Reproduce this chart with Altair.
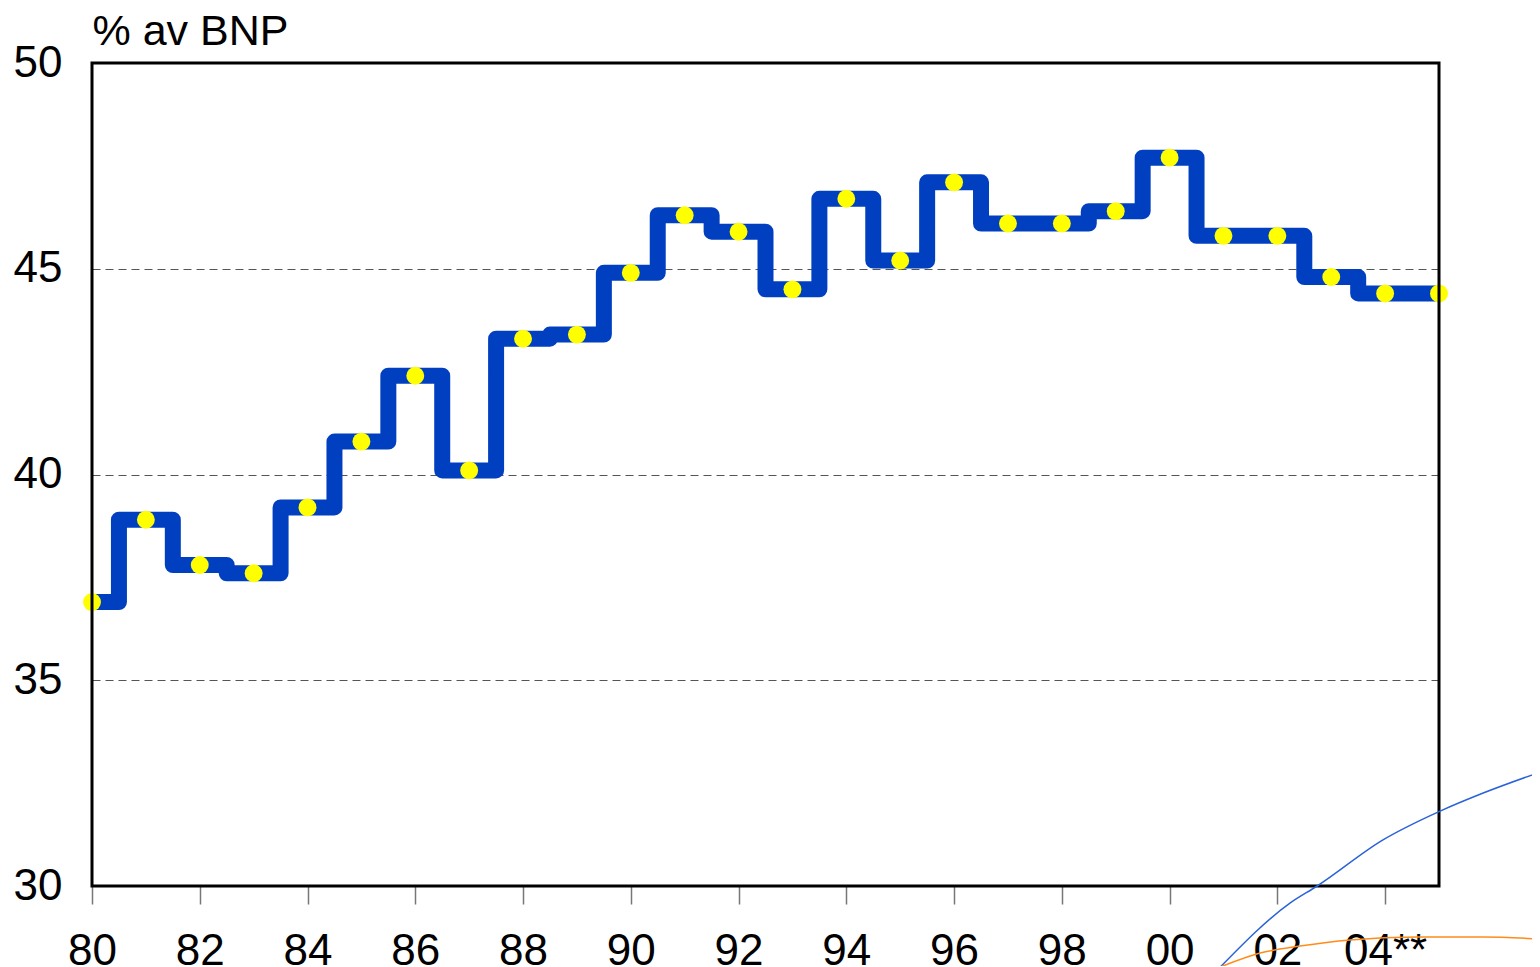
import altair as alt
import pandas as pd

# ---- data ----
years = list(range(1980, 2006))
values = [36.9, 38.9, 37.8, 37.6, 39.2, 40.8, 42.4, 40.1, 43.3, 43.4,
          44.9, 46.3, 45.9, 44.5, 46.7, 45.2, 47.1, 46.1, 46.1, 46.4,
          47.7, 45.8, 45.8, 44.8, 44.4, 44.4]

tick_values = list(range(1980, 2005, 2))
tick_labels = ["80", "82", "84", "86", "88", "90", "92", "94", "96", "98",
               "00", "02", "04**"]
y_ticks = [30, 35, 40, 45, 50]

# stray curves at the lower right of the picture
blue_x = [2000.94, 2002.24, 2002.74, 2003.96, 2005.02, 2005.82, 2006.88]
blue_y = [28.03, 29.59, 30.0, 31.12, 31.82, 32.26, 32.77]
orange_x = [2000.94, 2001.68, 2002.42, 2003.35, 2004.59, 2005.82, 2006.88]
orange_y = [28.03, 28.37, 28.54, 28.69, 28.76, 28.76, 28.71]

W, H = 1347, 823
FONT = "Liberation Sans"

df = pd.DataFrame({"year": years, "value": values})
df_blue = pd.DataFrame({"year": blue_x, "value": blue_y})
df_orange = pd.DataFrame({"year": orange_x, "value": orange_y})

label_expr = "''"
for v, l in reversed(list(zip(tick_values, tick_labels))):
    label_expr = f"datum.value == {v} ? '{l}' : ({label_expr})"

xscale = alt.Scale(domain=[1980, 2005], nice=False, zero=False)
yscale = alt.Scale(domain=[30, 50], nice=False, zero=False)

x_axis = alt.Axis(values=tick_values, labelExpr=label_expr, grid=False,
                  domain=False, ticks=True, tickSize=18, tickColor="#777777",
                  tickWidth=1.5, labelFontSize=44, labelColor="black",
                  labelFont=FONT, labelPadding=25, title=None,
                  labelFlush=False, labelOverlap=False)
y_axis = alt.Axis(values=y_ticks, grid=True, gridColor="#555555",
                  gridDash=[8, 5], gridWidth=1, domain=False, ticks=False,
                  labelFontSize=44, labelPadding=30, labelColor="black",
                  labelFont=FONT, title="% av BNP", titleAngle=0,
                  titleAlign="left", titleBaseline="alphabetic", titleX=0,
                  titleY=-19, titleFontSize=43, titleFontWeight="normal",
                  titleFont=FONT, titleColor="black")

X = alt.X("year:Q", scale=xscale, axis=x_axis)
Y = alt.Y("value:Q", scale=yscale, axis=y_axis)

line = alt.Chart(df).mark_line(
    interpolate="step", color="#0040C0", strokeWidth=16,
    strokeJoin="round", strokeCap="butt", clip=False
).encode(x=X, y=Y)

points = alt.Chart(df).mark_circle(
    color="#FFFF00", size=320, opacity=1, clip=False
).encode(x=X, y=Y)

frame = alt.Chart(pd.DataFrame({"a": [0]})).mark_rect(
    filled=False, stroke="black", strokeWidth=3
).encode(x=alt.value(0), x2=alt.value(W), y=alt.value(0), y2=alt.value(H))

blue = alt.Chart(df_blue).mark_line(
    interpolate="monotone", color="#2a62d8", strokeWidth=1.5, clip=False
).encode(x=X, y=Y)

orange = alt.Chart(df_orange).mark_line(
    interpolate="monotone", color="#ff8c1a", strokeWidth=1.5, clip=False
).encode(x=X, y=Y)

chart = alt.layer(line, points, frame, blue, orange).properties(
    width=W, height=H,
    autosize=alt.AutoSizeParams(type="none"),
    padding={"left": 84, "top": 55, "right": 93, "bottom": 80},
).configure_view(stroke=None).configure(background="white")

chart.save("out.html", embed_options={"renderer": "svg", "actions": False})
